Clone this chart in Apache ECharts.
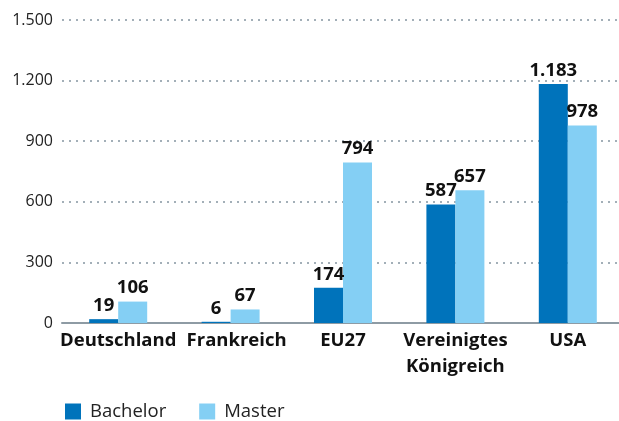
<!DOCTYPE html>
<html>
<head>
<meta charset="utf-8">
<script src="https://cdn.jsdelivr.net/npm/echarts@6/dist/echarts.min.js"></script>
<style>
  html, body { margin: 0; padding: 0; background: #fff; }
  #chart { width: 619px; height: 421px; }
</style>
</head>
<body>
<div id="chart"></div>
<script>
const categories = ['Deutschland', 'Frankreich', 'EU27', 'Vereinigtes\nKönigreich', 'USA']
const bachelor = [19, 6, 174, 587, 1183]
const master = [106, 67, 794, 657, 978]
const yMax = 1500
const yStep = 300

const fmt = v => String(v).replace(/\B(?=(\d{3})+(?!\d))/g, '.')
const font = '"Open Sans", "Noto Sans", sans-serif'

const chart = echarts.init(document.getElementById('chart'))

const valueLabel = {
  show: true,
  position: 'top',
  distance: 4,
  color: '#111',
  fontFamily: font,
  fontWeight: 'bold',
  fontSize: 18.5,
  formatter: p => fmt(p.value)
}

// Frankreich label sits a little right of its bars in the original
const xData = categories.map(c => c === 'Frankreich'
  ? { value: c, textStyle: { padding: [0, 0, 0, 12] } }
  : c)

chart.setOption({
  animation: false,
  textStyle: { fontFamily: font },
  grid: { left: 62, width: 562, top: 20, bottom: 98, outerBoundsMode: 'none', containLabel: false },
  legend: {
    left: 60,
    top: 397,
    itemWidth: 16,
    itemHeight: 16,
    itemGap: 33,
    icon: 'rect',
    textStyle: { fontSize: 18.5, color: '#222', fontFamily: font, padding: [0, 0, 0, 4] },
    data: ['Bachelor', 'Master']
  },
  xAxis: {
    type: 'category',
    data: xData,
    axisTick: { show: false },
    axisLine: { lineStyle: { color: '#8e9ba4', width: 2 } },
    axisLabel: {
      color: '#111',
      fontWeight: 'bold',
      fontSize: 18.5,
      lineHeight: 26,
      margin: 5,
      interval: 0,
      fontFamily: font
    }
  },
  yAxis: {
    type: 'value',
    min: 0,
    max: yMax,
    interval: yStep,
    axisLine: { show: false },
    axisTick: { show: false },
    axisLabel: {
      color: '#222',
      fontSize: 16,
      margin: 9,
      fontFamily: font,
      formatter: v => fmt(v)
    },
    splitLine: { lineStyle: { color: '#a3afb8', type: [2, 5], width: 2 } }
  },
  series: [
    {
      name: 'Bachelor',
      type: 'bar',
      data: bachelor,
      barWidth: 29,
      barGap: '0%',
      itemStyle: { color: '#0073bb' },
      label: valueLabel
    },
    {
      name: 'Master',
      type: 'bar',
      data: master,
      barWidth: 29,
      itemStyle: { color: '#84cff4' },
      label: valueLabel
    }
  ]
})
</script>
</body>
</html>
